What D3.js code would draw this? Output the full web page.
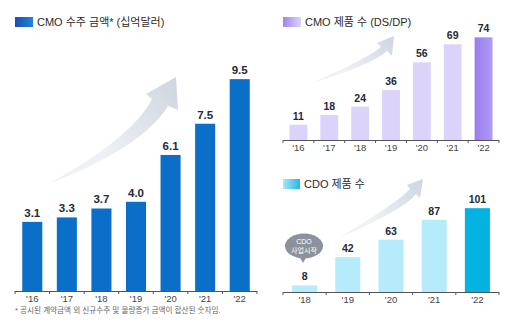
<!DOCTYPE html>
<html><head><meta charset="utf-8">
<script src="https://cdn.jsdelivr.net/npm/d3@7"></script>
<style>body{margin:0;background:#fff}svg{display:block}text{font-family:'Liberation Sans','Noto Sans CJK KR',sans-serif}</style>
</head><body>
<svg id="c" width="512" height="323"></svg>
<script>
const cmoYears = ["'16","'17","'18","'19","'20","'21","'22"];
const cmoAmounts = [3.1,3.3,3.7,4.0,6.1,7.5,9.5];
const prodYears = ["'16","'17","'18","'19","'20","'21","'22"];
const prodCounts = [11,18,24,36,56,69,74];
const cdoYears = ["'18","'19","'20","'21","'22"];
const cdoCounts = [8,42,63,87,101];
const titles = ["CMO 수주 금액* (십억달러)","CMO 제품 수 (DS/DP)","CDO 제품 수"];
const footnote = "* 공시된 계약금액 외 신규수주 및 물량증가 금액이 합산된 숫자임.";

const svg = d3.select("#c");
const defs = svg.append("defs");
function lg(id, a, b, x2=1, y2=0){
  const g = defs.append("linearGradient").attr("id",id).attr("x1",0).attr("y1",0).attr("x2",x2).attr("y2",y2);
  g.append("stop").attr("offset","0%").attr("stop-color",a);
  g.append("stop").attr("offset","100%").attr("stop-color",b);
}
lg("gBlue","#1a4fb4","#2183da");
lg("gPurple","#a084f2","#ddd4fb");
lg("gCyan","#a8e6f8","#25b6e4");
lg("gArrow","#eef1f5","#c3cbd7",1,-0.6);
lg("gLast","#9b7cf0","#b09af6");

function arrow(p){
  const d = `M${p.tail}Q${p.cU} ${p.ue}L${p.wl}L${p.tip}L${p.wr}L${p.le}Q${p.cL} ${p.tail}Z`;
  svg.append("path").attr("d",d).attr("fill","url(#gArrow)");
}
arrow({tail:"48,184",cU:"132,138",ue:"152,99",wl:"146,94",tip:"176,77",wr:"178,110",le:"168,106",cL:"142,148"});
arrow({tail:"312,83",cU:"368,58",ue:"381,47",wl:"377,43",tip:"394,36",wr:"392,56",le:"387,51",cL:"374,64"});
arrow({tail:"339,238",cU:"398,202",ue:"410,189",wl:"407,185",tip:"423,179",wr:"420,198",le:"416,194",cL:"405,209"});

function chart(o){
  const x = d3.scaleBand().domain(o.cats).range(o.xr).paddingInner(0.42).paddingOuter(0.21);
  const y = d3.scaleLinear().domain(o.yd).range([o.base, o.top]);
  const g = svg.append("g");
  g.selectAll("rect.bar").data(o.vals).join("rect")
    .attr("x",(d,i)=>x(o.cats[i])).attr("width",x.bandwidth())
    .attr("y",d=>y(d)).attr("height",d=>y(0)-y(d))
    .attr("fill",(d,i)=> i===o.vals.length-1 ? o.last : o.col);
  g.selectAll("text.val").data(o.vals).join("text")
    .attr("x",(d,i)=>x(o.cats[i])+x.bandwidth()/2).attr("y",d=>y(d)-5)
    .attr("text-anchor","middle").attr("font-weight","bold").attr("font-size",o.vfs)
    .attr("fill","#232a38").text(d=>o.fmt(d));
  const ax = g.append("g").attr("transform",`translate(0,${o.base})`)
    .call(d3.axisBottom(x).tickSize(0).tickPadding(o.tp));
  ax.select(".domain").attr("stroke","#555").attr("d",`M${o.xr[0]},0.5H${o.xr[1]}`);
  ax.selectAll("text").attr("font-size",9.5).attr("fill","#444")
    .style("font-family","'Liberation Sans','Noto Sans CJK KR',sans-serif");
  const gap = (x.step()-x.bandwidth())/2;
  const bounds = o.cats.map(c=>x(c)-gap).concat([o.xr[1]]);
  bounds[0] = o.xr[0];
  ax.selectAll("line.bt").data(bounds).join("line").attr("class","bt")
    .attr("x1",d=>d).attr("x2",d=>d).attr("y1",0).attr("y2",3).attr("stroke","#555");
  svg.append("rect").attr("x",o.lx).attr("y",o.ly).attr("width",o.lw).attr("height",10).attr("fill",o.lg);
  svg.append("text").attr("x",o.lx+o.lw+4).attr("y",o.ly+9).attr("font-size",11).attr("fill","#2a2a2a").text(o.title);
}

chart({cats:cmoYears,vals:cmoAmounts,xr:[15,257],yd:[0,10],base:291,top:68,col:"#0b6fca",last:"#0b6fca",
  vfs:11.5,fmt:d=>d.toFixed(1),tp:4,lx:15,ly:17,lw:18,lg:"url(#gBlue)",title:titles[0]});
chart({cats:prodYears,vals:prodCounts,xr:[283,499],yd:[0,80],base:140,top:29,col:"#dcd3fa",last:"url(#gLast)",
  vfs:10.5,fmt:d=>d,tp:4,lx:283,ly:17,lw:18,lg:"url(#gPurple)",title:titles[1]});
chart({cats:cdoYears,vals:cdoCounts,xr:[283,499],yd:[0,120],base:292,top:192.4,col:"#b6ebfb",last:"#04b2e2",
  vfs:10.5,fmt:d=>d,tp:4,lx:283,ly:179,lw:17,lg:"url(#gCyan)",title:titles[2]});

svg.append("path").attr("d","M299,256L303,263L307,256Z").attr("fill","#8b929b");
svg.append("ellipse").attr("cx",304).attr("cy",246).attr("rx",19).attr("ry",12.5).attr("fill","#8b929b");
svg.append("text").attr("x",304).attr("y",244).attr("text-anchor","middle").attr("font-size",7).attr("fill","#fff").text("CDO");
svg.append("text").attr("x",304).attr("y",253).attr("text-anchor","middle").attr("font-size",7).attr("fill","#fff").text("사업시작");

svg.append("text").attr("x",15).attr("y",313).attr("font-size",7.6).attr("fill","#666").text(footnote);
</script>
</body></html>
